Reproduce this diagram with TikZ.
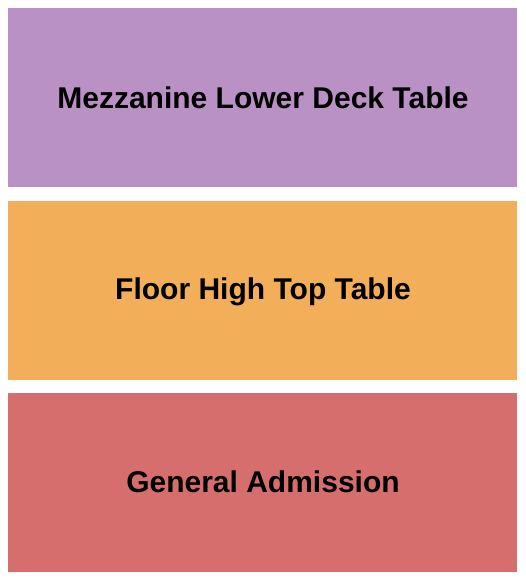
\documentclass[tikz,border=0pt]{standalone}
\usepackage{fontspec}
\setmainfont{Liberation Sans}
\definecolor{mezz}{RGB}{186,145,196}
\definecolor{floorc}{RGB}{243,174,89}
\definecolor{gac}{RGB}{215,110,110}
\begin{document}
\begin{tikzpicture}[x=1pt,y=-1pt,
  label/.style={font=\bfseries\fontsize{30}{34}\selectfont,text=black,anchor=base,inner sep=0pt}]
\useasboundingbox (0,0) rectangle (525,580);
\fill[white] (0,0) rectangle (525,580);
\fill[mezz] (8,8) rectangle (517,187);
\fill[floorc] (8,201) rectangle (517,380);
\fill[gac] (8,393) rectangle (517,572);
\node[label] (mezzlabel) at (263,109) {Mezzanine Lower Deck Table};
\node[label] (floorlabel) at (263,299.5) {Floor High Top Table};
\node[label] (galabel) at (263,492) {General Admission};
\end{tikzpicture}
\end{document}
